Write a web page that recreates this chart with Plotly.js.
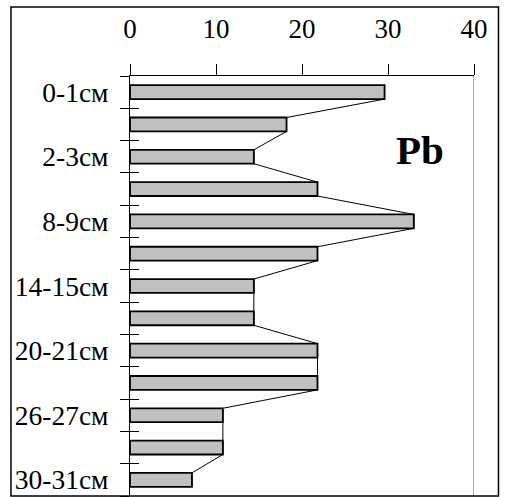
<!DOCTYPE html>
<html>
<head>
<meta charset="utf-8">
<script src="https://cdn.plot.ly/plotly-3.0.1.min.js"></script>
<style>html,body{margin:0;padding:0;background:#fff;}#chart{width:505px;height:497px;}</style>
</head>
<body>
<div id="chart"></div>
<script>
// Data
const depthLabels = ['0-1см','','2-3см','','8-9см','','14-15см','','20-21см','','26-27см','','30-31см'];
const pbValues = [29.6, 18.2, 14.4, 21.8, 33.0, 21.8, 14.4, 14.4, 21.8, 21.8, 10.8, 10.8, 7.2];
const xTicks = [0, 10, 20, 30, 40];

const idx = depthLabels.map((_, i) => i);
const barWidth = 0.43;
const half = barWidth / 2;

// Profile line along the bar ends
const lineX = [], lineY = [];
pbValues.forEach((v, i) => { lineX.push(v, v); lineY.push(i - half, i + half); });

const boundaries = [];
for (let i = 0; i <= depthLabels.length; i++) boundaries.push(i - 0.5);
const yRange = [depthLabels.length - 0.5, -0.5];

const fam = '"Liberation Serif", "Times New Roman", serif';
const font = {family: fam, size: 27.5, color: '#000'};

const traces = [
  {
    type: 'bar', orientation: 'h', x: pbValues, y: idx, width: barWidth,
    marker: {color: '#c0c0c0', line: {color: '#000', width: 1.8}},
    hoverinfo: 'x', xaxis: 'x', yaxis: 'y'
  },
  {
    type: 'scatter', mode: 'lines', x: lineX, y: lineY,
    line: {color: '#000', width: 1}, hoverinfo: 'skip', xaxis: 'x', yaxis: 'y2'
  },
  {type: 'scatter', mode: 'lines', x: [null], y: [null], xaxis: 'x', yaxis: 'y3', hoverinfo: 'skip'}
];

const layout = {
  width: 505, height: 497,
  margin: {l: 130, r: 31, t: 76, b: 1},
  paper_bgcolor: '#fff', plot_bgcolor: '#fff',
  showlegend: false,
  font: {family: fam, size: 27, color: '#000'},
  xaxis: {
    side: 'top', range: [0, 40], tickvals: xTicks, ticktext: xTicks.map(String),
    ticks: 'outside', ticklen: 11, tickwidth: 1, tickcolor: '#000',
    showline: true, linecolor: '#000', linewidth: 1,
    showgrid: false, zeroline: false, fixedrange: true,
    tickfont: {family: fam, size: 27, color: '#000'}, ticklabelstandoff: 15
  },
  yaxis: {
    range: yRange, tickvals: idx, ticktext: depthLabels,
    ticks: '', showline: true, linecolor: '#000', linewidth: 1,
    showgrid: false, zeroline: false, fixedrange: true,
    tickfont: font, ticklabelstandoff: 15
  },
  yaxis2: {
    overlaying: 'y', anchor: 'x', side: 'left', range: yRange,
    tickvals: boundaries, showticklabels: false,
    ticks: 'inside', ticklen: 9, tickwidth: 1, tickcolor: '#000',
    showline: false, showgrid: false, zeroline: false, fixedrange: true
  },
  yaxis3: {
    overlaying: 'y', anchor: 'x', side: 'left', range: yRange,
    tickvals: boundaries, showticklabels: false,
    ticks: 'outside', ticklen: 9, tickwidth: 1, tickcolor: '#000',
    showline: false, showgrid: false, zeroline: false, fixedrange: true
  },
  shapes: [
    {type: 'line', xref: 'x', yref: 'paper', x0: 40, x1: 40, y0: 0, y1: 1,
     line: {color: '#8c8c8c', width: 1.5}},
    {type: 'rect', xref: 'paper', yref: 'paper', x0: -0.346, x1: 1.0712, y0: 0, y1: 1.164,
     line: {color: '#000', width: 1.5}, fillcolor: 'rgba(0,0,0,0)'}
  ],
  annotations: [
    {xref: 'paper', yref: 'paper', x: 0.843, y: 0.824, xanchor: 'center', yanchor: 'middle',
     text: '<b>Pb</b>', showarrow: false,
     font: {family: fam, size: 41, color: '#000'}}
  ]
};

Plotly.newPlot('chart', traces, layout, {displayModeBar: false, staticPlot: true});
</script>
</body>
</html>
